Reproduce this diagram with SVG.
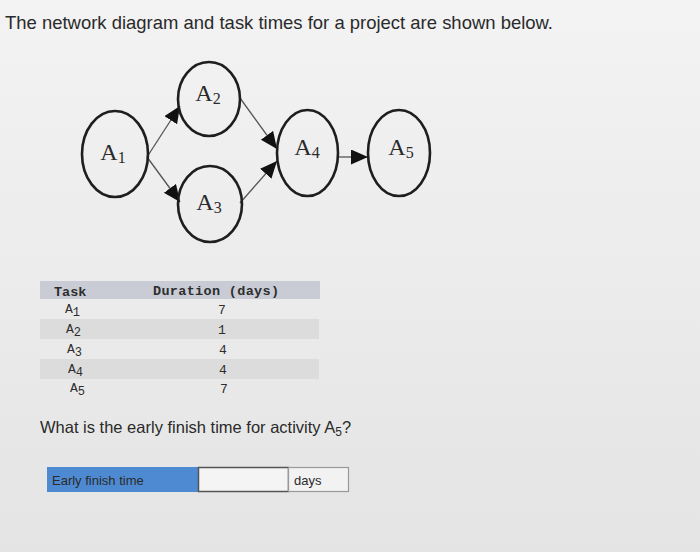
<svg xmlns="http://www.w3.org/2000/svg" width="700" height="552" viewBox="0 0 700 552">
<defs>
<linearGradient id="bg" x1="0" y1="0" x2="0" y2="1">
<stop offset="0" stop-color="#f3f3f3"/>
<stop offset="1" stop-color="#e4e4e4"/>
</linearGradient>
<marker id="arr" markerUnits="userSpaceOnUse" markerWidth="18" markerHeight="16" refX="17" refY="7.5" orient="auto">
<path d="M0,0 L17,7.5 L0,15 z" fill="#111"/>
</marker>
<style>
.node ellipse{fill:none;stroke:#1e1e1e;stroke-width:2.6}
.node text{font-family:"Liberation Serif","DejaVu Serif",serif;font-size:24px;fill:#2a2a2a;text-anchor:middle}
.sub{font-size:16px}
.edge{stroke:#555;stroke-width:1.3;fill:none;marker-end:url(#arr)}
.mono{font-family:"Liberation Mono","DejaVu Sans Mono",monospace;fill:#2e2e2e}
.sans{font-family:"Liberation Sans","Noto Sans",Arial,sans-serif;fill:#2a2a2a}
</style>
</defs>
<rect x="0" y="0" width="700" height="552" fill="url(#bg)"/>

<text class="sans" x="5" y="29" font-size="19" textLength="548" lengthAdjust="spacingAndGlyphs">The network diagram and task times for a project are shown below.</text>

<g id="connectors">
<line class="edge" x1="147" y1="157" x2="180" y2="106"/>
<line class="edge" x1="147" y1="157" x2="180" y2="202"/>
<line class="edge" x1="240" y1="98" x2="277" y2="149"/>
<line class="edge" x1="240" y1="203" x2="277" y2="161"/>
<line class="edge" x1="338" y1="157" x2="368" y2="157"/>
</g>

<g id="A1" class="node"><ellipse cx="115" cy="154" rx="33" ry="43"/><text x="113" y="160">A<tspan class="sub" dy="3">1</tspan></text></g>
<g id="A2" class="node"><ellipse cx="209" cy="99" rx="31" ry="37"/><text x="208" y="101">A<tspan class="sub" dy="3">2</tspan></text></g>
<g id="A3" class="node"><ellipse cx="210" cy="204" rx="32" ry="38"/><text x="209" y="210">A<tspan class="sub" dy="3">3</tspan></text></g>
<g id="A4" class="node"><ellipse cx="307.5" cy="153" rx="30.5" ry="43"/><text x="307" y="155">A<tspan class="sub" dy="3">4</tspan></text></g>
<g id="A5" class="node"><ellipse cx="399" cy="153" rx="31" ry="43"/><text x="401" y="155">A<tspan class="sub" dy="3">5</tspan></text></g>

<g id="table">
<rect x="40" y="281" width="280" height="18" fill="#c9ccd5"/>
<rect x="40" y="319" width="279" height="20" fill="#dcdcdc"/>
<rect x="40" y="359" width="279" height="20" fill="#dcdcdc"/>
<text class="mono" x="54" y="296" font-size="13.5" font-weight="bold" fill="#444">Task</text>
<text class="mono" x="153" y="295" font-size="13.5" font-weight="bold" fill="#444" textLength="126">Duration (days)</text>
<g class="mono" font-size="13">
<text x="65" y="313">A<tspan dy="3" font-size="12">1</tspan></text>
<text x="66" y="333">A<tspan dy="3" font-size="12">2</tspan></text>
<text x="67" y="353">A<tspan dy="3" font-size="12">3</tspan></text>
<text x="68" y="373">A<tspan dy="3" font-size="12">4</tspan></text>
<text x="70" y="392">A<tspan dy="3" font-size="12">5</tspan></text>
</g>
<g class="mono" font-size="13" text-anchor="middle">
<text x="222" y="314">7</text>
<text x="222" y="334">1</text>
<text x="223" y="354">4</text>
<text x="223" y="374">4</text>
<text x="224" y="393">7</text>
</g>
</g>

<text class="sans" x="40" y="433" font-size="16.5">What is the early finish time for activity A<tspan dy="3" font-size="12">5</tspan><tspan dy="-3">?</tspan></text>

<g id="answer">
<rect x="47" y="467" width="151" height="25" fill="#4e8ad2"/>
<text class="sans" x="52" y="485" font-size="13" fill="#1b2233">Early finish time</text>
<rect x="198.5" y="467.5" width="90" height="24" fill="#f4f4f4" stroke="#555" stroke-width="1.5"/>
<rect x="288.5" y="467.5" width="60" height="24" fill="#f2f2f2" stroke="#999" stroke-width="1.2"/>
<text class="sans" x="294" y="485" font-size="13">days</text>
</g>
</svg>
